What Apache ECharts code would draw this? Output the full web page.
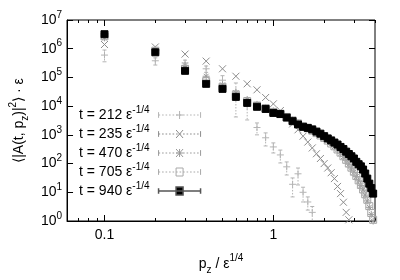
<!DOCTYPE html>
<html><head><meta charset="utf-8">
<script src="https://cdn.jsdelivr.net/npm/echarts@6/dist/echarts.min.js"></script>
<style>html,body{margin:0;padding:0;background:#fff}#c{width:400px;height:280px}</style>
</head><body><div id="c"></div>
<script>
// momentum values p_z / eps^(1/4)
const pz = [0.1,0.2,0.3,0.4,0.5,0.6,0.7,0.8,0.9,1.0,1.1,1.2,1.3,1.4,1.5,1.6,1.7,1.8,1.9,2.0,
            2.1,2.2,2.3,2.4,2.5,2.6,2.7,2.8,2.9,3.0,3.1,3.2,3.3,3.4,3.5,3.6,3.7,3.8,3.9];
// t = 212 (+) with error bars
const s212   = [6e5,3.8e5,3.2e5,2e5,8e4,3.4e4,1e4,1.8e3,790,380,200,77,19,44,10,4.6,2];
const s212Lo = [3.5e5,2.7e5,2.4e5,1.5e5,4.5e4,4.2e3,3.3e3,1e3,410,234,105,40,6.9,18,4.6,2.4,0.8];
const s212Hi = [9e5,4.8e5,4e5,2.5e5,1.15e5,6.4e4,1.65e4,2.6e3,1170,525,295,114,31.6,70,15,6.9,3.2];
// t = 235 (x)
const s235 = [1.4e6,1.15e6,6.5e5,3.7e5,2e5,1.1e5,6e4,3.7e4,2e4,1.2e4,7e3,4.2e3,2.4e3,1.5e3,900,560,350,220,150,100,
              70,48,30,16,9,4.5,2,1.1];
// t = 470 (*)
const s470 = [2.4e6,9.5e5,2.6e5,1.1e5,5.5e4,2.9e4,1.7e4,1.15e4,9e3,6.8e3,5.6e3,4.3e3,3.3e3,2.6e3,2050,1700,1400,1150,930,760,
              610,490,390,300,230,175,130,95,70,50,35,25,17,12,8,5,3,1.7,1.0];
// t = 705 (open square)
const s705 = [2.7e6,8.5e5,2e5,7.5e4,4.7e4,2.5e4,1.5e4,1.05e4,8.5e3,6.3e3,5.5e3,4.2e3,3.2e3,2.5e3,2e3,1700,1400,1150,950,780,
              630,500,400,310,240,180,135,100,72,52,37,26,18,12.5,8.5,5.5,3.3,1.9,1.1];
// t = 940 (filled square)
const s940 = [3.2e6,7.5e5,1.7e5,6e4,4e4,2.1e4,1.3e4,9.5e3,8e3,5.8e3,5.3e3,4e3,3e3,2.3e3,1.9e3,1750,1550,1300,1100,900,
              750,640,540,460,380,320,260,215,180,150,115,95,80,62,45,30,20,14,9];
const seriesNames = ['t = 212','t = 235','t = 470','t = 705','t = 940'];
const xMajor = [0.1, 1];
const xMajorLabels = ['0.1', '1'];
const xMinor = [0.06,0.07,0.08,0.09,0.2,0.3,0.4,0.5,0.6,0.7,0.8,0.9,2,3,4];
const yMajor = [1,10,100,1e3,1e4,1e5,1e6,1e7];

const FONT = '"Liberation Sans", Arial, sans-serif';
const C212 = '#b4b4b4', C235 = '#8c8c8c', C470 = '#9a9a9a', C705 = '#a8a8a8', C940 = '#000';

const PLUS = 'path://M0,5L10,5M5,0L5,10';
const CROSS = 'path://M0,0L10,10M10,0L0,10';
const STAR = 'path://M0,5L10,5M5,0L5,10M1.5,1.5L8.5,8.5M8.5,1.5L1.5,8.5';

const mPlus = 'M17.5,4L24.5,4M21,0.5L21,7.5';
const mCross = 'M17.5,0.5L24.5,7.5M24.5,0.5L17.5,7.5';
const mSquare = 'M17.5,0.5L24.5,0.5L24.5,7.5L17.5,7.5Z';
function legendIcon(marker, dotted) {
  let p = 'path://M0,1.5L0,6.5M42,1.5L42,6.5';
  if (dotted) { for (let x = 0; x < 42; x += 3.5) p += 'M' + x + ',4L' + Math.min(42, x + 1.6) + ',4'; }
  else p += 'M0,4L42,4';
  return p + marker;
}

function pairs(vals) { return vals.map((v, i) => [pz[i], v]); }

const chart = echarts.init(document.getElementById('c'), null, {renderer: 'canvas'});
const axisCommon = {
  type: 'log', logBase: 10, gridIndex: 0,
  splitLine: {show: false}, minorSplitLine: {show: false}
};
function xAx(pos, ticks, len, withLabels) {
  return Object.assign({}, axisCommon, {
    position: pos, min: 0.06, max: 4,
    axisLine: {show: withLabels, lineStyle: {color: '#000', width: 1}},
    axisTick: {show: true, inside: true, length: len, customValues: ticks, lineStyle: {color: '#000', width: 1}},
    axisLabel: withLabels ? {show: true, customValues: xMajor, margin: 7, color: '#000', fontSize: 14, fontFamily: FONT,
      formatter: v => { const i = xMajor.findIndex(m => Math.abs(m - v) < 1e-9); return i >= 0 ? xMajorLabels[i] : ''; }} : {show: false}
  });
}
function yAx(pos, withLabels) {
  return Object.assign({}, axisCommon, {
    position: pos, min: 1, max: 1e7,
    axisLine: {show: withLabels, lineStyle: {color: '#000', width: 1}},
    axisTick: {show: true, inside: true, length: 6, customValues: yMajor, lineStyle: {color: '#000', width: 1}},
    axisLabel: withLabels ? {show: true, customValues: yMajor, margin: 5, color: '#000', fontFamily: FONT,
      formatter: v => '{a|10}{s|' + Math.round(Math.log10(v)) + '}',
      rich: {a: {fontSize: 14, fontFamily: FONT, color: '#000', lineHeight: 20},
             s: {fontSize: 10, fontFamily: FONT, color: '#000', verticalAlign: 'top', lineHeight: 10}}} : {show: false}
  });
}
const xAxes = [xAx('bottom', xMajor, 6, true), xAx('bottom', xMinor, 3, false), xAx('top', xMajor, 6, false), xAx('top', xMinor, 3, false)];
xAxes[0].name = '{a|p}{b|z}{a| / ε}{s|1/4}';
xAxes[0].nameLocation = 'middle';
xAxes[0].nameGap = 32;
xAxes[0].nameTextStyle = {fontFamily: FONT, color: '#000', rich: {
  a: {fontSize: 14, fontFamily: FONT, color: '#000', lineHeight: 22},
  b: {fontSize: 10, fontFamily: FONT, color: '#000', verticalAlign: 'bottom', lineHeight: 10},
  s: {fontSize: 10, fontFamily: FONT, color: '#000', verticalAlign: 'top', lineHeight: 10}}};
const yAxes = [yAx('left', true), yAx('right', false)];
yAxes[0].name = '{a|⟨|A(t, p}{b|z}{a|)|}{s|2}{a|⟩ · ε}';
yAxes[0].nameLocation = 'middle';
yAxes[0].nameRotate = 90;
yAxes[0].nameGap = 32;
yAxes[0].nameTextStyle = {fontFamily: FONT, color: '#000', rich: {
  a: {fontSize: 14, fontFamily: FONT, color: '#000', lineHeight: 22},
  b: {fontSize: 10, fontFamily: FONT, color: '#000', verticalAlign: 'bottom', lineHeight: 10},
  s: {fontSize: 10, fontFamily: FONT, color: '#000', verticalAlign: 'top', lineHeight: 10}}};

function scatter(name, vals, symbol, size, color, fill) {
  return {type: 'scatter', name, data: pairs(vals), symbol, symbolSize: size, xAxisIndex: 0, yAxisIndex: 0,
    silent: true, clip: true, emphasis: {disabled: true}, animation: false,
    itemStyle: {color: fill, borderColor: color, borderWidth: 1, opacity: 1}};
}

const option = {
  animation: false,
  backgroundColor: '#fff',
  grid: {left: 57, right: 25, top: 20, bottom: 59, show: true, borderColor: '#000', borderWidth: 1, containLabel: false},
  xAxis: xAxes,
  yAxis: yAxes,
  legend: {
    orient: 'vertical', left: 74, top: 100, itemGap: 2, itemWidth: 42, itemHeight: 8, align: 'right',
    selectedMode: false, symbolKeepAspect: false,
    formatter: n => '{a|' + n + ' ε}{s|-1/4}',
    textStyle: {fontFamily: FONT, color: '#000', rich: {
      a: {fontSize: 14, fontFamily: FONT, color: '#000', lineHeight: 20},
      s: {fontSize: 10, fontFamily: FONT, color: '#000', verticalAlign: 'top', lineHeight: 10, padding: [0, 4, 0, 0]}}},
    data: [
      {name: seriesNames[0], icon: legendIcon(mPlus, true), itemStyle: {color: 'none', borderColor: C212, borderWidth: 1}},
      {name: seriesNames[1], icon: legendIcon(mCross, true), itemStyle: {color: 'none', borderColor: C235, borderWidth: 1}},
      {name: seriesNames[2], icon: legendIcon(mPlus + mCross, true), itemStyle: {color: 'none', borderColor: C470, borderWidth: 1}},
      {name: seriesNames[3], icon: legendIcon(mSquare, true), itemStyle: {color: 'none', borderColor: C705, borderWidth: 1}},
      {name: seriesNames[4], icon: legendIcon(mSquare, false), itemStyle: {color: '#000', borderColor: '#555', borderWidth: 1.5}}
    ]
  },
  series: [
    {type: 'custom', name: 'err212', xAxisIndex: 0, yAxisIndex: 0, clip: true, silent: true, animation: false,
     data: s212.map((v, i) => [pz[i], v, s212Lo[i], s212Hi[i]]),
     encode: {x: 0, y: 1},
     renderItem: (params, api) => {
       const x = api.value(0);
       const a = api.coord([x, api.value(3)]), b = api.coord([x, api.value(2)]);
       const st = {stroke: C212, lineWidth: 1, lineDash: [1.5, 1.5]};
       const cs = {stroke: C212, lineWidth: 1};
       return {type: 'group', children: [
         {type: 'line', shape: {x1: a[0], y1: a[1], x2: b[0], y2: b[1]}, style: st},
         {type: 'line', shape: {x1: a[0] - 2, y1: a[1], x2: a[0] + 2, y2: a[1]}, style: cs},
         {type: 'line', shape: {x1: b[0] - 2, y1: b[1], x2: b[0] + 2, y2: b[1]}, style: cs}
       ]};
     }},
    scatter(seriesNames[0], s212, PLUS, 7, C212, 'none'),
    scatter(seriesNames[1], s235, CROSS, 7, C235, 'none'),
    scatter(seriesNames[2], s470, STAR, 7, C470, 'none'),
    scatter(seriesNames[3], s705, 'rect', 7, C705, 'none'),
    scatter(seriesNames[4], s940, 'rect', 7, '#000', '#000')
  ]
};
chart.setOption(option);
</script></body></html>
